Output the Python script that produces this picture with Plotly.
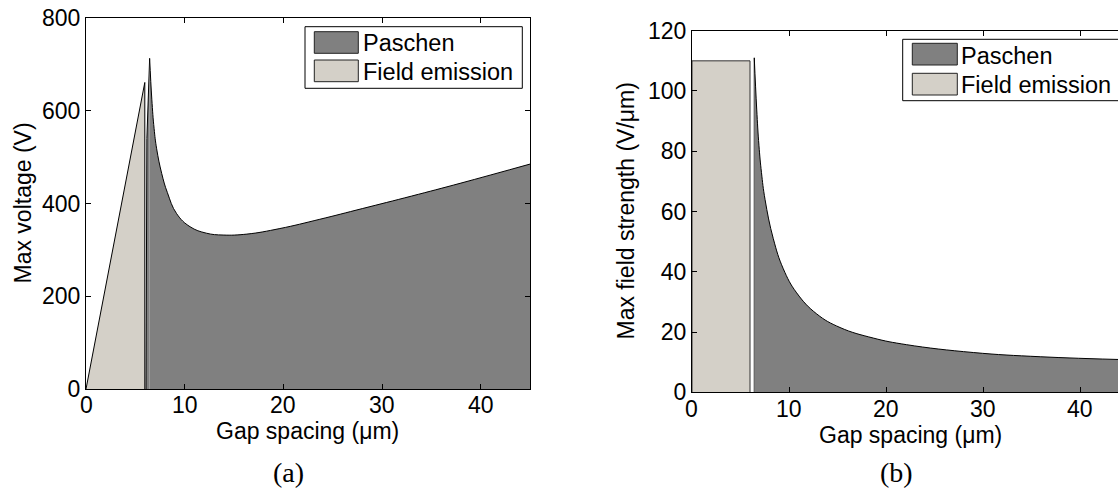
import plotly.graph_objects as go

W, H = 1118, 498

# ---- (a) maximum voltage vs gap ----
fe_gap_a = [0, 5.96, 5.96]
fe_volt_a = [0, 661, 0]

paschen_gap_a = [6.08, 6.17, 6.45, 6.67, 6.9, 7.16, 7.67, 8.24, 9.19, 10.54, 12.2, 13.9,
                 16.3, 19.65, 23.7, 28.0, 33.0, 38.0, 45.0]
paschen_volt_a = [0, 540, 713, 625, 562, 518, 465, 424, 378, 350, 336, 332,
                  334, 346, 366, 389, 416, 444, 485]

# ---- (b) maximum field strength vs gap ----
fe_gap_b = [0, 0, 5.98, 5.98]
fe_field_b = [0, 110, 110, 0]

paschen_gap_b = [6.42, 6.42, 6.67, 6.9, 7.16, 7.53, 8.38, 9.41, 10.79, 12.86, 15.26,
                 18.69, 22.13, 29.0, 35.9, 45.0]
paschen_field_b = [0, 111, 94, 82, 73, 64, 51, 41, 33, 26, 21.5,
                   18.0, 15.8, 13.2, 11.8, 10.8]

x_ticks = [0, 10, 20, 30, 40]
y_ticks_a = [0, 200, 400, 600, 800]
y_ticks_b = [0, 20, 40, 60, 80, 100, 120]

PASCHEN = "#808080"
FIELD = "#d4d0c8"
SANS = "Liberation Sans, Arial, Helvetica, sans-serif"
SERIF = "Liberation Serif, Times New Roman, serif"


def px(x):
    return x / W


def py(y):
    return 1 - y / H


fig = go.Figure()

# (a) field-emission triangle
fig.add_trace(go.Scatter(x=fe_gap_a, y=fe_volt_a, mode="lines", fill="tozeroy",
                         fillcolor=FIELD, line=dict(color="black", width=1),
                         xaxis="x", yaxis="y", showlegend=False, hoverinfo="skip"))
# (a) Paschen: rising edge, then smooth curve
fig.add_trace(go.Scatter(x=paschen_gap_a[:3], y=paschen_volt_a[:3], mode="lines",
                         fill="tozeroy", fillcolor=PASCHEN,
                         line=dict(color="black", width=1),
                         xaxis="x", yaxis="y", showlegend=False, hoverinfo="skip"))
fig.add_trace(go.Scatter(x=paschen_gap_a[2:], y=paschen_volt_a[2:], mode="lines",
                         fill="tozeroy", fillcolor=PASCHEN,
                         line=dict(color="black", width=1, shape="spline", smoothing=1.2),
                         xaxis="x", yaxis="y", showlegend=False, hoverinfo="skip"))

# (b) field-emission block
fig.add_trace(go.Scatter(x=fe_gap_b, y=fe_field_b, mode="lines", fill="toself",
                         fillcolor=FIELD, line=dict(color="#333333", width=1),
                         xaxis="x2", yaxis="y2", showlegend=False, hoverinfo="skip"))
# (b) Paschen: vertical edge, then smooth curve
fig.add_trace(go.Scatter(x=paschen_gap_b[:2], y=paschen_field_b[:2], mode="lines",
                         line=dict(color="black", width=1),
                         xaxis="x2", yaxis="y2", showlegend=False, hoverinfo="skip"))
fig.add_trace(go.Scatter(x=paschen_gap_b[1:], y=paschen_field_b[1:], mode="lines",
                         fill="tozeroy", fillcolor=PASCHEN,
                         line=dict(color="black", width=1, shape="spline", smoothing=1.2),
                         xaxis="x2", yaxis="y2", showlegend=False, hoverinfo="skip"))

axis_common = dict(ticks="inside", ticklen=5, tickwidth=1, tickcolor="black",
                   showline=True, linecolor="black", linewidth=1,
                   showgrid=False, zeroline=False,
                   tickfont=dict(family=SANS, size=23, color="black"))

fig.update_layout(
    width=W, height=H,
    margin=dict(l=0, r=0, t=0, b=0, autoexpand=False),
    paper_bgcolor="white", plot_bgcolor="white",
    showlegend=False,
    xaxis=dict(domain=[px(86), px(530)], range=[0, 45], tickvals=x_ticks,
               showticklabels=False, mirror="ticks", anchor="y", **axis_common),
    yaxis=dict(domain=[py(389), py(18)], range=[0, 800], tickvals=y_ticks_a,
               mirror="ticks", anchor="x", **axis_common),
    xaxis2=dict(domain=[px(692), 1.0], range=[0, (W - 692) / 9.70], tickvals=x_ticks,
                showticklabels=False, mirror="ticks", anchor="y2", **axis_common),
    yaxis2=dict(domain=[py(392.3), py(30.7)], range=[0, 120], tickvals=y_ticks_b,
                mirror=False, anchor="x2", **axis_common),
)

shapes = []
annotations = []

# x tick labels, placed at the tick values of each gap axis
for xref, label_y in (("x", 405), ("x2", 409)):
    for t in x_ticks:
        annotations.append(dict(text=str(t), xref=xref, yref="paper", x=t, y=py(label_y),
                                xanchor="center", yanchor="middle", showarrow=False,
                                font=dict(family=SANS, size=23, color="black")))


def legend(box, sw_x, sw_y1, sw_y2, text_x, text_y1, text_y2):
    x0, x1, y0, y1 = box
    shapes.append(dict(type="rect", xref="paper", yref="paper", layer="above",
                       x0=px(x0), x1=px(x1), y0=py(y1), y1=py(y0),
                       fillcolor="white", line=dict(color="black", width=1)))
    for (ya, yb), col in ((sw_y1, PASCHEN), (sw_y2, FIELD)):
        shapes.append(dict(type="rect", xref="paper", yref="paper", layer="above",
                           x0=px(sw_x[0]), x1=px(sw_x[1]), y0=py(yb), y1=py(ya),
                           fillcolor=col, line=dict(color="#222222", width=1)))
    for label, ty in (("Paschen", text_y1), ("Field emission", text_y2)):
        annotations.append(dict(text=label, xref="paper", yref="paper",
                                x=px(text_x), y=py(ty), xanchor="left", yanchor="middle",
                                showarrow=False, borderpad=0,
                                font=dict(family=SANS, size=23.5, color="black")))


legend((305, 522.3, 26.7, 88.3), (314.3, 358.3), (31.7, 53.3), (60, 81.7), 362, 42.7, 71.7)
legend((902.7, 1140, 39.3, 100.7), (912.3, 957.3), (43.3, 65), (73.3, 95), 960, 56, 85)

title_font = dict(family=SANS, size=23, color="black")
for text, x, y, ang in (("Max voltage (V)", 22, 203.5, -90),
                        ("Max field strength (V/μm)", 626, 211.5, -90),
                        ("Gap spacing (μm)", 308, 431, 0),
                        ("Gap spacing (μm)", 910, 435, 0)):
    annotations.append(dict(text=text, xref="paper", yref="paper", x=px(x), y=py(y),
                            xanchor="center", yanchor="middle", textangle=ang,
                            showarrow=False, font=title_font))

for text, x, y in (("(a)", 289, 472), ("(b)", 896, 472)):
    annotations.append(dict(text=text, xref="paper", yref="paper", x=px(x), y=py(y),
                            xanchor="center", yanchor="middle", showarrow=False,
                            font=dict(family=SERIF, size=28, color="black")))

fig.update_layout(shapes=shapes, annotations=annotations)

fig.write_html("out.html")
